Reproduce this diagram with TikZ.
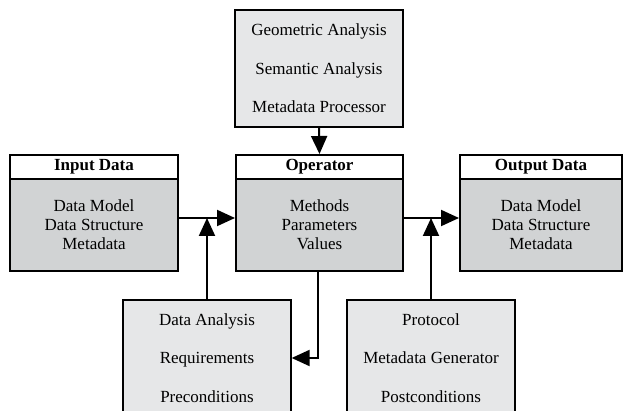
\documentclass[tikz,border=0pt]{standalone}
\usepackage{fontspec}
\setmainfont{Liberation Serif}
\usetikzlibrary{arrows.meta}
\definecolor{bodygray}{HTML}{D1D3D4}
\definecolor{auxgray}{HTML}{E6E7E8}
\begin{document}
\begin{tikzpicture}[x=1pt,y=-1pt,
  hdr/.style={draw=black,line width=2pt,fill=white,minimum height=24pt,inner sep=0pt,font=\fontsize{17}{19}\selectfont\bfseries},
  bodybox/.style={draw=black,line width=2pt,fill=bodygray,minimum height=92pt,inner sep=0pt,align=center,font=\fontsize{17}{19}\selectfont},
  aux/.style={draw=black,line width=1.3pt,fill=auxgray,minimum width=168pt,inner sep=0pt,align=center,font=\fontsize{17}{38.5}\selectfont},
  arr/.style={line width=2pt,-{Triangle[length=18pt,width=16pt]}}]
\useasboundingbox (0,0) rectangle (623,411);
\clip (0,0) rectangle (623,411);
% top box
\node[aux,minimum height=117pt] (top) at (319,68.5) {Geometric Analysis\\Semantic Analysis\\Metadata Processor};
% input
\node[hdr,minimum width=168pt] (inHdr) at (94,167) {Input Data};
\node[bodybox,minimum width=168pt] (inBody) at (94,225) {Data Model\\Data Structure\\Metadata};
% operator
\node[hdr,minimum width=167pt] (opHdr) at (319.5,167) {Operator};
\node[bodybox,minimum width=167pt] (opBody) at (319.5,225) {Methods\\Parameters\\Values};
% output
\node[hdr,minimum width=162pt] (outHdr) at (541,167) {Output Data};
\node[bodybox,minimum width=162pt] (outBody) at (541,225) {Data Model\\Data Structure\\Metadata};
% bottom boxes
\node[aux,minimum height=116pt] (bl) at (207,358) {Data Analysis\\Requirements\\Preconditions};
\node[aux,minimum height=116pt] (br) at (431,358) {Protocol\\Metadata Generator\\Postconditions};
% connectors
\coordinate (j1) at (207,218);
\coordinate (j2) at (431,218);
\draw[arr] (top.south) -- (opHdr.north);
\draw[arr] ([yshift=7pt]inBody.east) -- ([yshift=7pt]opBody.west);
\draw[arr] ([yshift=7pt]opBody.east) -- ([yshift=7pt]outBody.west);
\draw[arr] (bl.north) -- (j1);
\draw[arr] (br.north) -- (j2);
\draw[arr] ([xshift=-1.5pt]opBody.south) -- ([xshift=-1.5pt]opBody.south |- bl.east) -- (bl.east);
\end{tikzpicture}
\end{document}
